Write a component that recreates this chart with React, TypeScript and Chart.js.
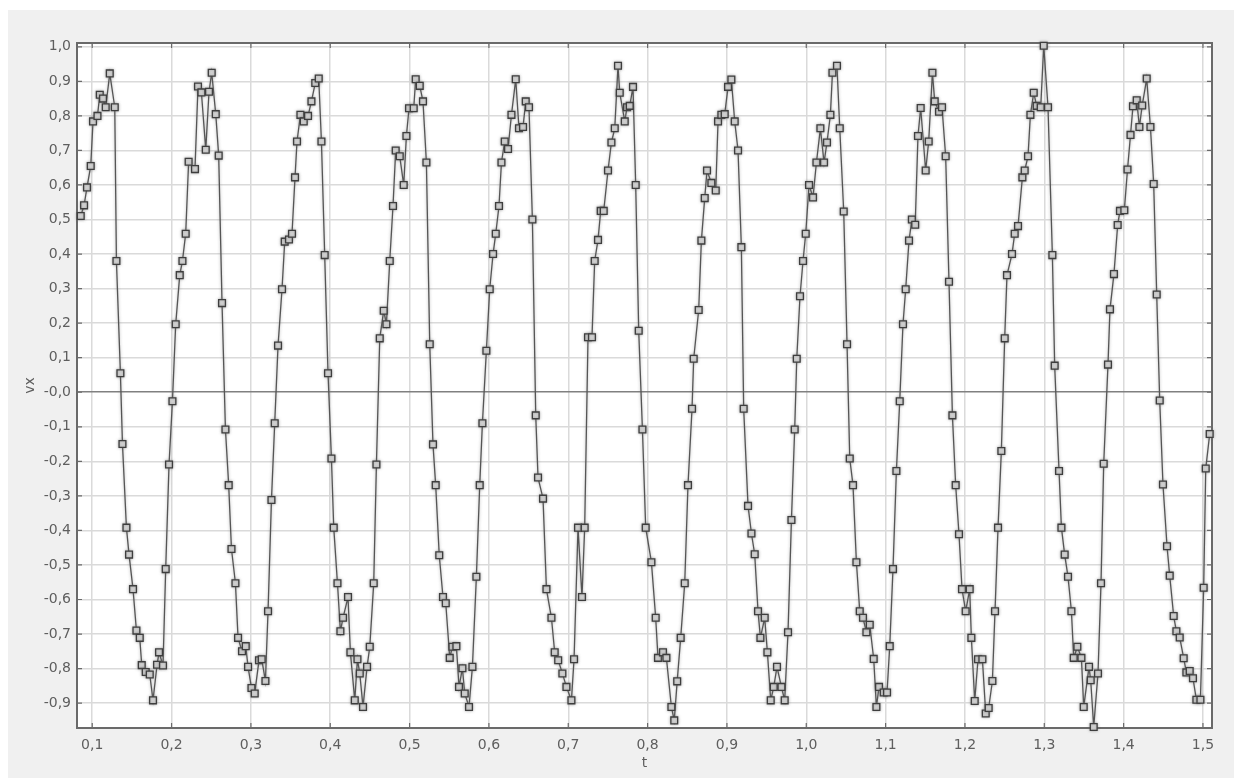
import React, { useEffect, useRef } from 'react';
import { Chart, registerables } from 'chart.js';

Chart.register(...registerables);

const tValues = [
  0.0855, 0.0897, 0.0934, 0.0981, 0.1010, 0.1066, 0.1095, 0.1136, 0.1170, 0.1221,
  0.1284, 0.1305, 0.1355, 0.1381, 0.1431, 0.1464, 0.1514, 0.1557, 0.1599, 0.1624,
  0.1674, 0.1725, 0.1766, 0.1817, 0.1842, 0.1892, 0.1926, 0.1968, 0.2011, 0.2052,
  0.2103, 0.2137, 0.2178, 0.2215, 0.2295, 0.2333, 0.2376, 0.2431, 0.2472, 0.2506,
  0.2557, 0.2594, 0.2636, 0.2679, 0.2720, 0.2755, 0.2805, 0.2838, 0.2888, 0.2935,
  0.2964, 0.3007, 0.3048, 0.3102, 0.3136, 0.3183, 0.3216, 0.3259, 0.3300, 0.3342,
  0.3392, 0.3426, 0.3480, 0.3518, 0.3556, 0.3581, 0.3624, 0.3666, 0.3720, 0.3763,
  0.3811, 0.3855, 0.3889, 0.3930, 0.3972, 0.4015, 0.4044, 0.4091, 0.4128, 0.4161,
  0.4224, 0.4254, 0.4309, 0.4343, 0.4372, 0.4413, 0.4464, 0.4498, 0.4548, 0.4582,
  0.4624, 0.4674, 0.4708, 0.4750, 0.4791, 0.4825, 0.4876, 0.4926, 0.4960, 0.4993,
  0.5052, 0.5077, 0.5128, 0.5169, 0.5212, 0.5254, 0.5295, 0.5329, 0.5374, 0.5421,
  0.5456, 0.5506, 0.5540, 0.5590, 0.5623, 0.5666, 0.5695, 0.5749, 0.5792, 0.5842,
  0.5884, 0.5918, 0.5968, 0.6010, 0.6052, 0.6086, 0.6127, 0.6158, 0.6199, 0.6241,
  0.6284, 0.6338, 0.6379, 0.6430, 0.6464, 0.6505, 0.6548, 0.6590, 0.6619, 0.6682,
  0.6725, 0.6788, 0.6829, 0.6873, 0.6926, 0.6977, 0.7040, 0.7073, 0.7123, 0.7173,
  0.7207, 0.7249, 0.7299, 0.7333, 0.7375, 0.7409, 0.7447, 0.7501, 0.7544, 0.7586,
  0.7627, 0.7649, 0.7712, 0.7741, 0.7775, 0.7816, 0.7850, 0.7888, 0.7935, 0.7976,
  0.8048, 0.8102, 0.8131, 0.8194, 0.8237, 0.8300, 0.8336, 0.8373, 0.8417, 0.8468,
  0.8509, 0.8560, 0.8581, 0.8644, 0.8678, 0.8720, 0.8749, 0.8804, 0.8859, 0.8888,
  0.8930, 0.8972, 0.9014, 0.9056, 0.9098, 0.9140, 0.9182, 0.9211, 0.9266, 0.9309,
  0.9350, 0.9392, 0.9422, 0.9476, 0.9510, 0.9552, 0.9590, 0.9631, 0.9687, 0.9728,
  0.9770, 0.9813, 0.9854, 0.9880, 0.9921, 0.9959, 0.9993, 1.0035, 1.0085, 1.0128,
  1.0178, 1.0224, 1.0261, 1.0304, 1.0330, 1.0387, 1.0422, 1.0472, 1.0514, 1.0548,
  1.0589, 1.0632, 1.0674, 1.0715, 1.0758, 1.0800, 1.0850, 1.0884, 1.0917, 1.0976,
  1.1018, 1.1052, 1.1093, 1.1136, 1.1178, 1.1219, 1.1253, 1.1295, 1.1331, 1.1373,
  1.1408, 1.1442, 1.1505, 1.1543, 1.1590, 1.1619, 1.1673, 1.1711, 1.1757, 1.1799,
  1.1842, 1.1883, 1.1925, 1.1963, 1.2009, 1.2060, 1.2081, 1.2123, 1.2165, 1.2220,
  1.2262, 1.2299, 1.2346, 1.2379, 1.2417, 1.2459, 1.2501, 1.2530, 1.2593, 1.2627,
  1.2669, 1.2724, 1.2753, 1.2795, 1.2825, 1.2867, 1.2904, 1.2955, 1.2993, 1.3047,
  1.3102, 1.3131, 1.3186, 1.3216, 1.3257, 1.3299, 1.3342, 1.3371, 1.3417, 1.3468,
  1.3497, 1.3564, 1.3585, 1.3623, 1.3677, 1.3715, 1.3749, 1.3803, 1.3828, 1.3878,
  1.3925, 1.3954, 1.4009, 1.4049, 1.4087, 1.4118, 1.4165, 1.4199, 1.4234, 1.4291,
  1.4338, 1.4379, 1.4417, 1.4455, 1.4496, 1.4547, 1.4581, 1.4631, 1.4665, 1.4707,
  1.4757, 1.4791, 1.4833, 1.4874, 1.4917, 1.4968, 1.5009, 1.5035, 1.5085,
];

const vxValues = [
  0.510, 0.541, 0.593, 0.655, 0.784, 0.800, 0.861, 0.850, 0.825, 0.923,
  0.825, 0.380, 0.055, -0.150, -0.392, -0.470, -0.570, -0.690, -0.711, -0.790,
  -0.810, -0.817, -0.892, -0.789, -0.753, -0.791, -0.512, -0.209, -0.026, 0.197,
  0.339, 0.380, 0.459, 0.667, 0.646, 0.885, 0.868, 0.702, 0.870, 0.925,
  0.805, 0.685, 0.258, -0.108, -0.269, -0.454, -0.553, -0.711, -0.750, -0.735,
  -0.795, -0.856, -0.872, -0.776, -0.773, -0.836, -0.634, -0.312, -0.090, 0.135,
  0.298, 0.436, 0.442, 0.459, 0.622, 0.726, 0.803, 0.784, 0.800, 0.842,
  0.895, 0.908, 0.726, 0.397, 0.055, -0.192, -0.392, -0.553, -0.692, -0.653,
  -0.593, -0.753, -0.892, -0.773, -0.814, -0.911, -0.795, -0.737, -0.553, -0.209,
  0.156, 0.236, 0.197, 0.380, 0.539, 0.700, 0.683, 0.600, 0.742, 0.822,
  0.822, 0.906, 0.887, 0.842, 0.665, 0.139, -0.151, -0.269, -0.472, -0.593,
  -0.611, -0.769, -0.737, -0.735, -0.853, -0.799, -0.872, -0.911, -0.795, -0.534,
  -0.269, -0.090, 0.120, 0.298, 0.400, 0.459, 0.539, 0.665, 0.726, 0.704,
  0.803, 0.906, 0.764, 0.768, 0.842, 0.825, 0.500, -0.067, -0.247, -0.308,
  -0.570, -0.653, -0.753, -0.776, -0.814, -0.853, -0.892, -0.773, -0.392, -0.593,
  -0.392, 0.159, 0.159, 0.380, 0.441, 0.525, 0.525, 0.642, 0.723, 0.764,
  0.945, 0.867, 0.784, 0.825, 0.829, 0.884, 0.600, 0.178, -0.108, -0.392,
  -0.492, -0.653, -0.769, -0.753, -0.769, -0.911, -0.950, -0.837, -0.711, -0.553,
  -0.269, -0.048, 0.097, 0.238, 0.439, 0.562, 0.642, 0.606, 0.584, 0.784,
  0.803, 0.805, 0.884, 0.905, 0.784, 0.700, 0.420, -0.048, -0.329, -0.409,
  -0.469, -0.634, -0.711, -0.653, -0.753, -0.892, -0.853, -0.795, -0.853, -0.892,
  -0.695, -0.370, -0.108, 0.097, 0.278, 0.380, 0.459, 0.600, 0.564, 0.665,
  0.764, 0.665, 0.723, 0.803, 0.925, 0.945, 0.764, 0.523, 0.139, -0.192,
  -0.269, -0.492, -0.634, -0.653, -0.695, -0.673, -0.772, -0.911, -0.853, -0.869,
  -0.869, -0.735, -0.512, -0.228, -0.026, 0.197, 0.298, 0.439, 0.500, 0.485,
  0.742, 0.823, 0.642, 0.726, 0.925, 0.842, 0.812, 0.825, 0.683, 0.320,
  -0.067, -0.269, -0.411, -0.570, -0.634, -0.570, -0.711, -0.894, -0.773, -0.773,
  -0.930, -0.914, -0.836, -0.634, -0.392, -0.170, 0.156, 0.339, 0.400, 0.459,
  0.481, 0.622, 0.642, 0.683, 0.803, 0.867, 0.829, 0.825, 1.003, 0.825,
  0.397, 0.077, -0.228, -0.392, -0.470, -0.534, -0.634, -0.769, -0.737, -0.769,
  -0.911, -0.795, -0.834, -0.969, -0.814, -0.553, -0.207, 0.080, 0.240, 0.342,
  0.484, 0.525, 0.527, 0.645, 0.745, 0.828, 0.845, 0.768, 0.830, 0.908,
  0.768, 0.603, 0.283, -0.024, -0.267, -0.446, -0.531, -0.648, -0.692, -0.710,
  -0.770, -0.811, -0.807, -0.828, -0.890, -0.890, -0.566, -0.221, -0.121,
];

const xTickValues = [0.1, 0.2, 0.3, 0.4, 0.5, 0.6, 0.7, 0.8, 0.9, 1.0, 1.1, 1.2, 1.3, 1.4, 1.5];
const xTickLabels = ['0,1', '0,2', '0,3', '0,4', '0,5', '0,6', '0,7', '0,8', '0,9', '1,0', '1,1', '1,2', '1,3', '1,4', '1,5'];
const yTickValues = [-0.9, -0.8, -0.7, -0.6, -0.5, -0.4, -0.3, -0.2, -0.1, 0, 0.1, 0.2, 0.3, 0.4, 0.5, 0.6, 0.7, 0.8, 0.9, 1.0];
const yTickLabels = ['-0,9', '-0,8', '-0,7', '-0,6', '-0,5', '-0,4', '-0,3', '-0,2', '-0,1', '-0,0', '0,1', '0,2', '0,3', '0,4', '0,5', '0,6', '0,7', '0,8', '0,9', '1,0'];

const X_MIN = 0.0808;
const X_MAX = 1.5114;
const Y_MIN = -0.972;
const Y_MAX = 1.011;

const X_TITLE = 't';
const Y_TITLE = 'vx';

const CANVAS_W = 1226;
const CANVAS_H = 768;
const AREA_BOTTOM = 718;
const FONT = '"DejaVu Sans", Verdana, sans-serif';
const TEXT_COLOR = '#5e5e5e';

const decorPlugin = {
  id: 'decor',
  beforeDraw(chart: any) {
    const { ctx, chartArea: a } = chart;
    ctx.save();
    ctx.fillStyle = '#ffffff';
    ctx.fillRect(a.left, a.top, a.right - a.left, a.bottom - a.top);
    ctx.restore();
  },
  beforeDatasetsDraw(chart: any) {
    const { ctx, chartArea: a, scales } = chart;
    ctx.save();
    ctx.strokeStyle = '#6a6a6a';
    ctx.lineWidth = 1.2;
    ctx.beginPath();
    for (const v of yTickValues) {
      const y = scales.y.getPixelForValue(v);
      ctx.moveTo(a.left, y);
      ctx.lineTo(a.left + 5, y);
      ctx.moveTo(a.right, y);
      ctx.lineTo(a.right - 5, y);
    }
    for (const v of xTickValues) {
      const x = scales.x.getPixelForValue(v);
      ctx.moveTo(x, a.bottom);
      ctx.lineTo(x, a.bottom - 5);
      ctx.moveTo(x, a.top);
      ctx.lineTo(x, a.top + 5);
    }
    ctx.stroke();
    ctx.lineWidth = 2;
    ctx.strokeRect(a.left, a.top, a.right - a.left, a.bottom - a.top);
    ctx.restore();
    // soft halo around line and markers, like the reference
    ctx.save();
    ctx.shadowColor = 'rgba(110,110,110,0.55)';
    ctx.shadowBlur = 3;
  },
  afterDatasetsDraw(chart: any) {
    chart.ctx.restore();
  },
  afterDraw(chart: any) {
    const { ctx, chartArea: a } = chart;
    ctx.save();
    ctx.fillStyle = TEXT_COLOR;
    ctx.font = `14px ${FONT}`;
    ctx.textAlign = 'center';
    ctx.textBaseline = 'middle';
    ctx.fillText(X_TITLE, (a.left + a.right) / 2, a.bottom + 35);
    ctx.translate(22, (a.top + a.bottom) / 2);
    ctx.rotate(-Math.PI / 2);
    ctx.fillText(Y_TITLE, 0, 0);
    ctx.restore();
  },
};

export default function App() {
  const canvasRef = useRef<HTMLCanvasElement | null>(null);

  useEffect(() => {
    if (!canvasRef.current) return;
    const points = tValues.map((t, i) => ({ x: t, y: vxValues[i] }));
    const chart = new Chart(canvasRef.current, {
      type: 'line',
      data: {
        datasets: [
          {
            data: points,
            borderColor: '#555555',
            borderWidth: 1.3,
            pointStyle: 'rect',
            pointRadius: 4.8,
            pointBorderWidth: 1.3,
            pointBorderColor: '#3e3e3e',
            pointBackgroundColor: '#d6d6d6',
            tension: 0,
            clip: false,
          } as any,
        ],
      },
      options: {
        animation: false,
        responsive: false,
        events: [],
        layout: { padding: { top: 33, right: CANVAS_W - 1204, left: 0, bottom: 0 } },
        plugins: {
          legend: { display: false },
          tooltip: { enabled: false },
        },
        scales: {
          x: {
            type: 'linear',
            min: X_MIN,
            max: X_MAX,
            afterFit: (scale: any) => {
              scale.height = CANVAS_H - AREA_BOTTOM;
            },
            afterBuildTicks: (scale: any) => {
              scale.ticks = xTickValues.map((v) => ({ value: v }));
            },
            ticks: {
              autoSkip: false,
              maxRotation: 0,
              padding: 9,
              color: TEXT_COLOR,
              font: { family: FONT, size: 14 },
              callback: (_v: any, i: number) => xTickLabels[i],
            },
            grid: { color: '#dadada', lineWidth: 1.5, drawTicks: false },
            border: { display: false },
          },
          y: {
            type: 'linear',
            min: Y_MIN,
            max: Y_MAX,
            afterFit: (scale: any) => {
              scale.width = 69;
            },
            afterBuildTicks: (scale: any) => {
              scale.ticks = yTickValues.map((v) => ({ value: v }));
            },
            ticks: {
              autoSkip: false,
              padding: 6,
              color: TEXT_COLOR,
              font: { family: FONT, size: 14 },
              callback: (_v: any, i: number) => yTickLabels[i],
            },
            grid: {
              color: (c: any) => (c.tick && c.tick.value === 0 ? '#808080' : '#dadada'),
              lineWidth: 1.5,
              drawTicks: false,
            },
            border: { display: false },
          },
        },
      },
      plugins: [decorPlugin],
    });
    return () => chart.destroy();
  }, []);

  return (
    <div
      style={{
        position: 'absolute',
        left: 8,
        top: 10,
        width: CANVAS_W,
        height: CANVAS_H,
        background: '#f0f0f0',
        overflow: 'hidden',
      }}
    >
      <canvas ref={canvasRef} width={CANVAS_W} height={CANVAS_H} style={{ display: 'block' }} />
    </div>
  );
}
